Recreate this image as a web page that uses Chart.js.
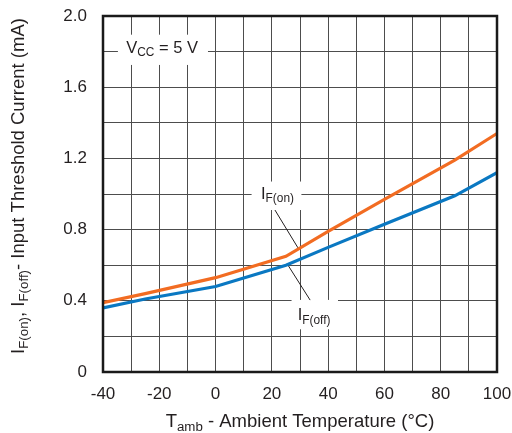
<!DOCTYPE html>
<html>
<head>
<meta charset="utf-8">
<script src="https://cdn.jsdelivr.net/npm/chart.js@4"></script>
<style>
  body { margin: 0; background: #fff; }
  #wrap { width: 512px; height: 433px; }
</style>
</head>
<body>
<div id="wrap"><canvas id="thresholdChart" width="512" height="433"></canvas></div>
<script>
// temperatura ambiente (°C) e correntes de limiar (mA)
const temps = [-40, -25, 0, 25, 40, 60, 85, 100];
const ifOn = [0.39, 0.44, 0.53, 0.65, 0.79, 0.97, 1.19, 1.34];
const ifOff = [0.36, 0.41, 0.48, 0.60, 0.70, 0.83, 0.99, 1.12];

const xTicks = [-40, -20, 0, 20, 40, 60, 80, 100];
const yTicks = ["0", "0.4", "0.8", "1.2", "1.6", "2.0"];

const FONT = "'Liberation Sans', Arial, sans-serif";
const TEXT = "#231f20";

// desenha texto com subscritos: partes = [[texto, subscrito?], ...]
function richWidth(ctx, parts, size) {
  let w = 0;
  parts.forEach(([t, sub]) => {
    ctx.font = (sub ? size * 0.72 : size) + "px " + FONT;
    w += ctx.measureText(t).width;
  });
  return w;
}

function drawRich(ctx, parts, cx, cy, size) {
  let x = cx - richWidth(ctx, parts, size) / 2;
  ctx.textBaseline = "middle";
  ctx.textAlign = "left";
  ctx.fillStyle = TEXT;
  parts.forEach(([t, sub]) => {
    ctx.font = (sub ? size * 0.72 : size) + "px " + FONT;
    ctx.fillText(t, x, sub ? cy + size * 0.3 : cy);
    x += ctx.measureText(t).width;
  });
}

// rótulos dentro do gráfico (em coordenadas de dados)
const notes = [
  { parts: [["V", false], ["CC", true], [" = 5 V", false]], x: -19, y: 1.82, box: [-34.7, -2.7, 1.895, 1.725] },
  { parts: [["I", false], ["F(on)", true]], x: 22, y: 1.0, box: [12.8, 30.5, 1.07, 0.91] },
  { parts: [["I", false], ["F(off)", true]], x: 35, y: 0.315, box: [27, 43.5, 0.405, 0.24] }
];
const leaders = [
  [21.1, 0.91, 29.3, 0.697],
  [25.7, 0.601, 33.6, 0.404]
];

const extras = {
  id: "extras",
  beforeDatasetsDraw(chart) {
    const { ctx, scales: { x, y } } = chart;
    ctx.save();
    ctx.fillStyle = "#fff";
    notes.forEach(n => {
      const [x0, x1, y0, y1] = n.box;
      const px0 = x.getPixelForValue(x0), px1 = x.getPixelForValue(x1);
      const py0 = y.getPixelForValue(y0), py1 = y.getPixelForValue(y1);
      ctx.fillRect(px0, py0, px1 - px0, py1 - py0);
    });
    ctx.strokeStyle = "#231f20";
    ctx.lineWidth = 1;
    leaders.forEach(([a, b, c, d]) => {
      ctx.beginPath();
      ctx.moveTo(x.getPixelForValue(a), y.getPixelForValue(b));
      ctx.lineTo(x.getPixelForValue(c), y.getPixelForValue(d));
      ctx.stroke();
    });
    ctx.restore();
  },
  afterDraw(chart) {
    const { ctx, chartArea: a, scales: { x, y } } = chart;
    ctx.save();
    // moldura
    ctx.strokeStyle = "#1a1a1a";
    ctx.lineWidth = 2.5;
    ctx.strokeRect(a.left, a.top, a.right - a.left, a.bottom - a.top);

    notes.forEach(n => drawRich(ctx, n.parts, x.getPixelForValue(n.x), y.getPixelForValue(n.y), 16.5));

    // títulos dos eixos
    drawRich(ctx, [["T", false], ["amb", true], [" - Ambient Temperature (°C)", false]],
      (a.left + a.right) / 2, 422, 18.5);
    ctx.translate(19, 186);
    ctx.rotate(-Math.PI / 2);
    drawRich(ctx, [["I", false], ["F(on)", true], [", I", false], ["F(off)", true],
      ["- Input Threshold Current (mA)", false]], 0, 0, 18.5);
    ctx.restore();
  }
};

new Chart(document.getElementById("thresholdChart"), {
  type: "line",
  data: {
    datasets: [
      {
        label: "IF(on)",
        data: temps.map((t, i) => ({ x: t, y: ifOn[i] })),
        borderColor: "#f26c22",
        borderWidth: 3.2,
        pointRadius: 0,
        tension: 0
      },
      {
        label: "IF(off)",
        data: temps.map((t, i) => ({ x: t, y: ifOff[i] })),
        borderColor: "#0a78c2",
        borderWidth: 3.2,
        pointRadius: 0,
        tension: 0
      }
    ]
  },
  options: {
    responsive: false,
    animation: false,
    layout: { padding: { top: 16, right: 15, left: 0, bottom: 0 } },
    plugins: {
      legend: { display: false },
      tooltip: { enabled: false }
    },
    scales: {
      x: {
        type: "linear",
        min: -40,
        max: 100,
        afterFit: s => { s.height = 61; s.paddingLeft = 0; s.paddingRight = 0; },
        afterBuildTicks: s => { s.ticks = []; for (let v = -40; v <= 100; v += 10) s.ticks.push({ value: v }); },
        grid: { color: "#4d4d4d", lineWidth: 1, drawTicks: false },
        border: { display: false },
        ticks: {
          padding: 12,
          color: TEXT,
          font: { family: FONT, size: 17 },
          maxRotation: 0,
          autoSkip: false,
          callback: v => xTicks.includes(v) ? String(v) : ""
        }
      },
      y: {
        min: 0,
        max: 2,
        afterFit: s => { s.width = 103; s.paddingTop = 0; s.paddingBottom = 0; },
        afterBuildTicks: s => { s.ticks = []; for (let i = 0; i <= 10; i++) s.ticks.push({ value: i * 0.2 }); },
        grid: { color: "#4d4d4d", lineWidth: 1, drawTicks: false },
        border: { display: false },
        ticks: {
          padding: 16,
          color: TEXT,
          font: { family: FONT, size: 17 },
          autoSkip: false,
          callback: (v, i) => i % 2 === 0 ? yTicks[i / 2] : ""
        }
      }
    }
  },
  plugins: [extras]
});
</script>
</body>
</html>
